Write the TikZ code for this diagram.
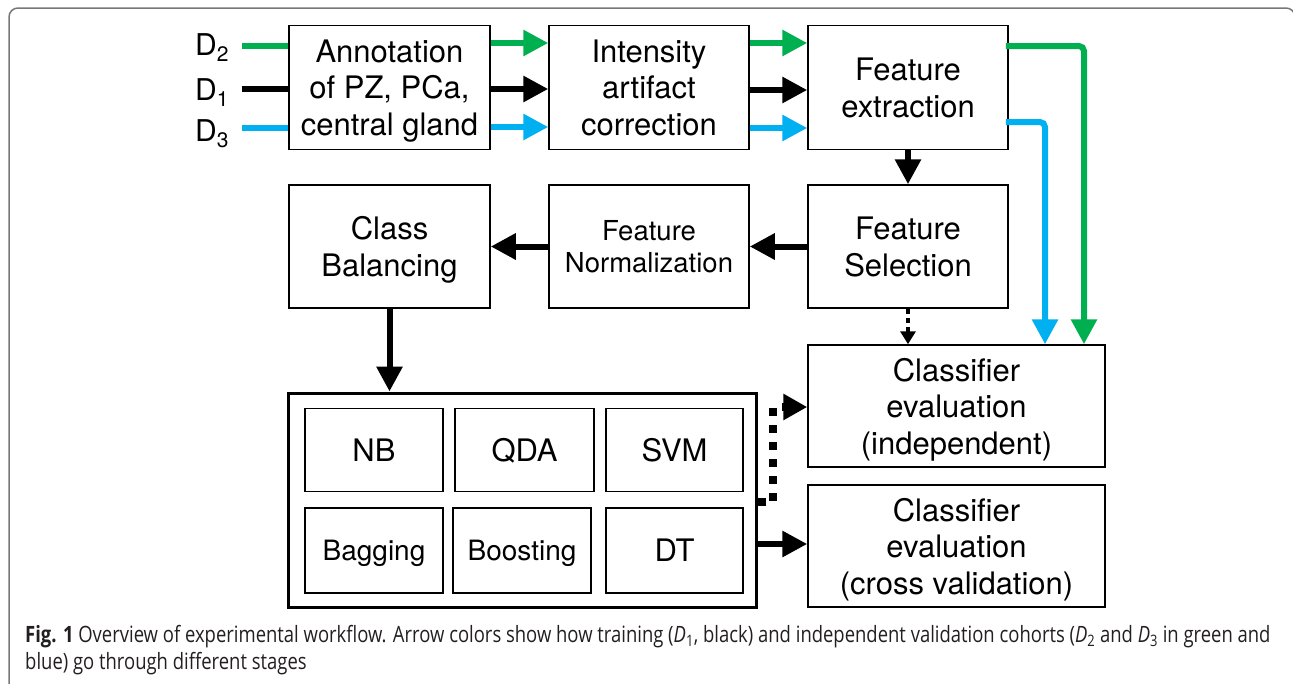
\documentclass[tikz,border=0pt]{standalone}
\usepackage{fontspec}
\setmainfont{TeX Gyre Heros}
\newfontfamily\capfont[FakeStretch=0.82]{Open Sans}
\usetikzlibrary{arrows.meta,calc}
\definecolor{cgreen}{RGB}{0,176,80}
\definecolor{cblue}{RGB}{0,176,240}
\definecolor{framegray}{RGB}{120,120,120}
\definecolor{captext}{RGB}{35,31,32}
\begin{document}
\begin{tikzpicture}[x=1pt,y=-1pt,
  box/.style={draw,line width=1.5pt,inner sep=0pt,align=center,text depth=0pt,font=\fontsize{31}{36.5}\selectfont},
  smallbox/.style={box,font=\fontsize{27.5}{32}\selectfont},
  bigbox/.style={draw,line width=3pt,inner sep=0pt},
  arr/.style={line width=6pt,-{Triangle[length=25pt,width=25pt]}},
  feed/.style={line width=6pt},
  dlabel/.style={anchor=base west,inner sep=0pt,font=\fontsize{30}{35}\selectfont},
  capline/.style={anchor=base west,inner sep=0pt,text=captext,font=\capfont\fontsize{22.5}{27}\selectfont}]
\useasboundingbox (0,0) rectangle (1293,683);
\clip (0,0) rectangle (1293,683);
\draw[framegray,line width=1.5pt,rounded corners=9pt] (9,700) -- (9,8) -- (1295,8) -- (1295,700);

% top row
\node[box,minimum width=201pt,minimum height=124pt] (ann) at (389.5,87.5) {Annotation\\of PZ, PCa,\\central gland};
\node[box,minimum width=200pt,minimum height=124pt] (int) at (649,87.5) {Intensity\\artifact\\correction};
\node[box,minimum width=200pt,minimum height=124pt] (ext) at (908,87.5) {Feature\\extraction};
% second row
\node[box,minimum width=201pt,minimum height=123pt] (cb) at (389.5,246.5) {Class\\Balancing};
\node[smallbox,minimum width=200pt,minimum height=123pt] (nor) at (649,246.5) {Feature\\Normalization};
\node[box,minimum width=200pt,minimum height=123pt] (sel) at (908,246.5) {Feature\\Selection};
% evaluation
\node[box,minimum width=297pt,minimum height=122pt] (evi) at (956.5,406) {Classifier\\evaluation\\(independent)};
\node[box,minimum width=297pt,minimum height=122pt] (evc) at (956.5,546) {Classifier\\evaluation\\(cross validation)};
% classifiers
\node[bigbox,minimum width=468pt,minimum height=214pt] (big) at (522,500) {};
\node[box,minimum width=138pt,minimum height=83pt] (nb) at (374,450) {NB};
\node[box,minimum width=139pt,minimum height=83pt] (qda) at (524.5,450) {QDA};
\node[box,minimum width=137pt,minimum height=83pt] (svm) at (674.5,450) {SVM};
\node[box,minimum width=138pt,minimum height=85pt,font=\fontsize{28}{32}\selectfont] (bag) at (374,550.5) {Bagging};
\node[box,minimum width=138pt,minimum height=85pt,font=\fontsize{28}{32}\selectfont] (boo) at (522,550.5) {Boosting};
\node[box,minimum width=137pt,minimum height=85pt] (dt) at (674.5,550.5) {DT};

% dataset labels
\node[dlabel] (d2) at (195,55) {D\textsubscript{2}};
\node[dlabel] (d1) at (195,100) {D\textsubscript{1}};
\node[dlabel] (d3) at (195,141) {D\textsubscript{3}};

\coordinate (yg) at (0,46);
\coordinate (yk) at (0,89);
\coordinate (yb) at (0,128);
\coordinate (yg2) at (0,43);
\coordinate (yk2) at (0,90);
\coordinate (yb2) at (0,127);
\coordinate (ge) at (0,46);
\coordinate (be) at (0,122);
\coordinate (gx) at (1084,0);
\coordinate (bx) at (1045,0);
\coordinate (s1) at (242,0);

% inputs
\draw[feed,cgreen] (s1 |- yg) -- (ann.west |- yg);
\draw[feed,black] (s1 |- yk) -- (ann.west |- yk);
\draw[feed,cblue] (s1 |- yb) -- (ann.west |- yb);
% annotation -> intensity
\draw[arr,cgreen] (ann.east |- yg2) -- (int.west |- yg2);
\draw[arr,black] (ann.east |- yk) -- (int.west |- yk);
\draw[arr,cblue] (ann.east |- yb2) -- (int.west |- yb2);
% intensity -> extraction
\draw[arr,cgreen] (int.east |- yg2) -- (ext.west |- yg2);
\draw[arr,black] (int.east |- yk2) -- (ext.west |- yk2);
\draw[arr,cblue] (int.east |- yb) -- (ext.west |- yb);
% extraction -> independent evaluation
\draw[arr,cgreen,rounded corners=5pt] ([xshift=-3pt]ext.east |- ge) -| (evi.north -| gx);
\draw[arr,cblue,rounded corners=5pt] ([xshift=-3pt]ext.east |- be) -| (evi.north -| bx);
% pipeline
\draw[arr] (ext.south) -- (sel.north);
\draw[arr] (sel.west) -- (nor.east);
\draw[arr] (nor.west) -- (cb.east);
\draw[arr] (cb.south) -- (cb.south |- big.north);
\draw[line width=4pt,dash pattern=on 5pt off 4pt,-{Triangle[length=13pt,width=15pt]}] (sel.south) -- (sel.south |- evi.north);
\coordinate (dy) at (0,502);
\coordinate (dx) at (773,0);
\coordinate (ay) at (0,407);
\coordinate (cy) at (0,544);
\draw[line width=8pt,dash pattern=on 8pt off 9pt,-{Triangle[length=24pt,width=25pt]}] (big.east |- dy) -- (dx |- dy) -- (dx |- ay) -- (evi.west |- ay);
\draw[arr] (big.east |- cy) -- (evc.west |- cy);

% caption
\node[capline] (cap1) at (25,642) {\textbf{Fig. 1} Overview of experimental workflow. Arrow colors show how training (\textit{D}\textsubscript{1}, black) and independent validation cohorts (\textit{D}\textsubscript{2} and \textit{D}\textsubscript{3} in green and};
\node[capline] (cap2) at (25,669) {blue) go through different stages};
\end{tikzpicture}
\end{document}
